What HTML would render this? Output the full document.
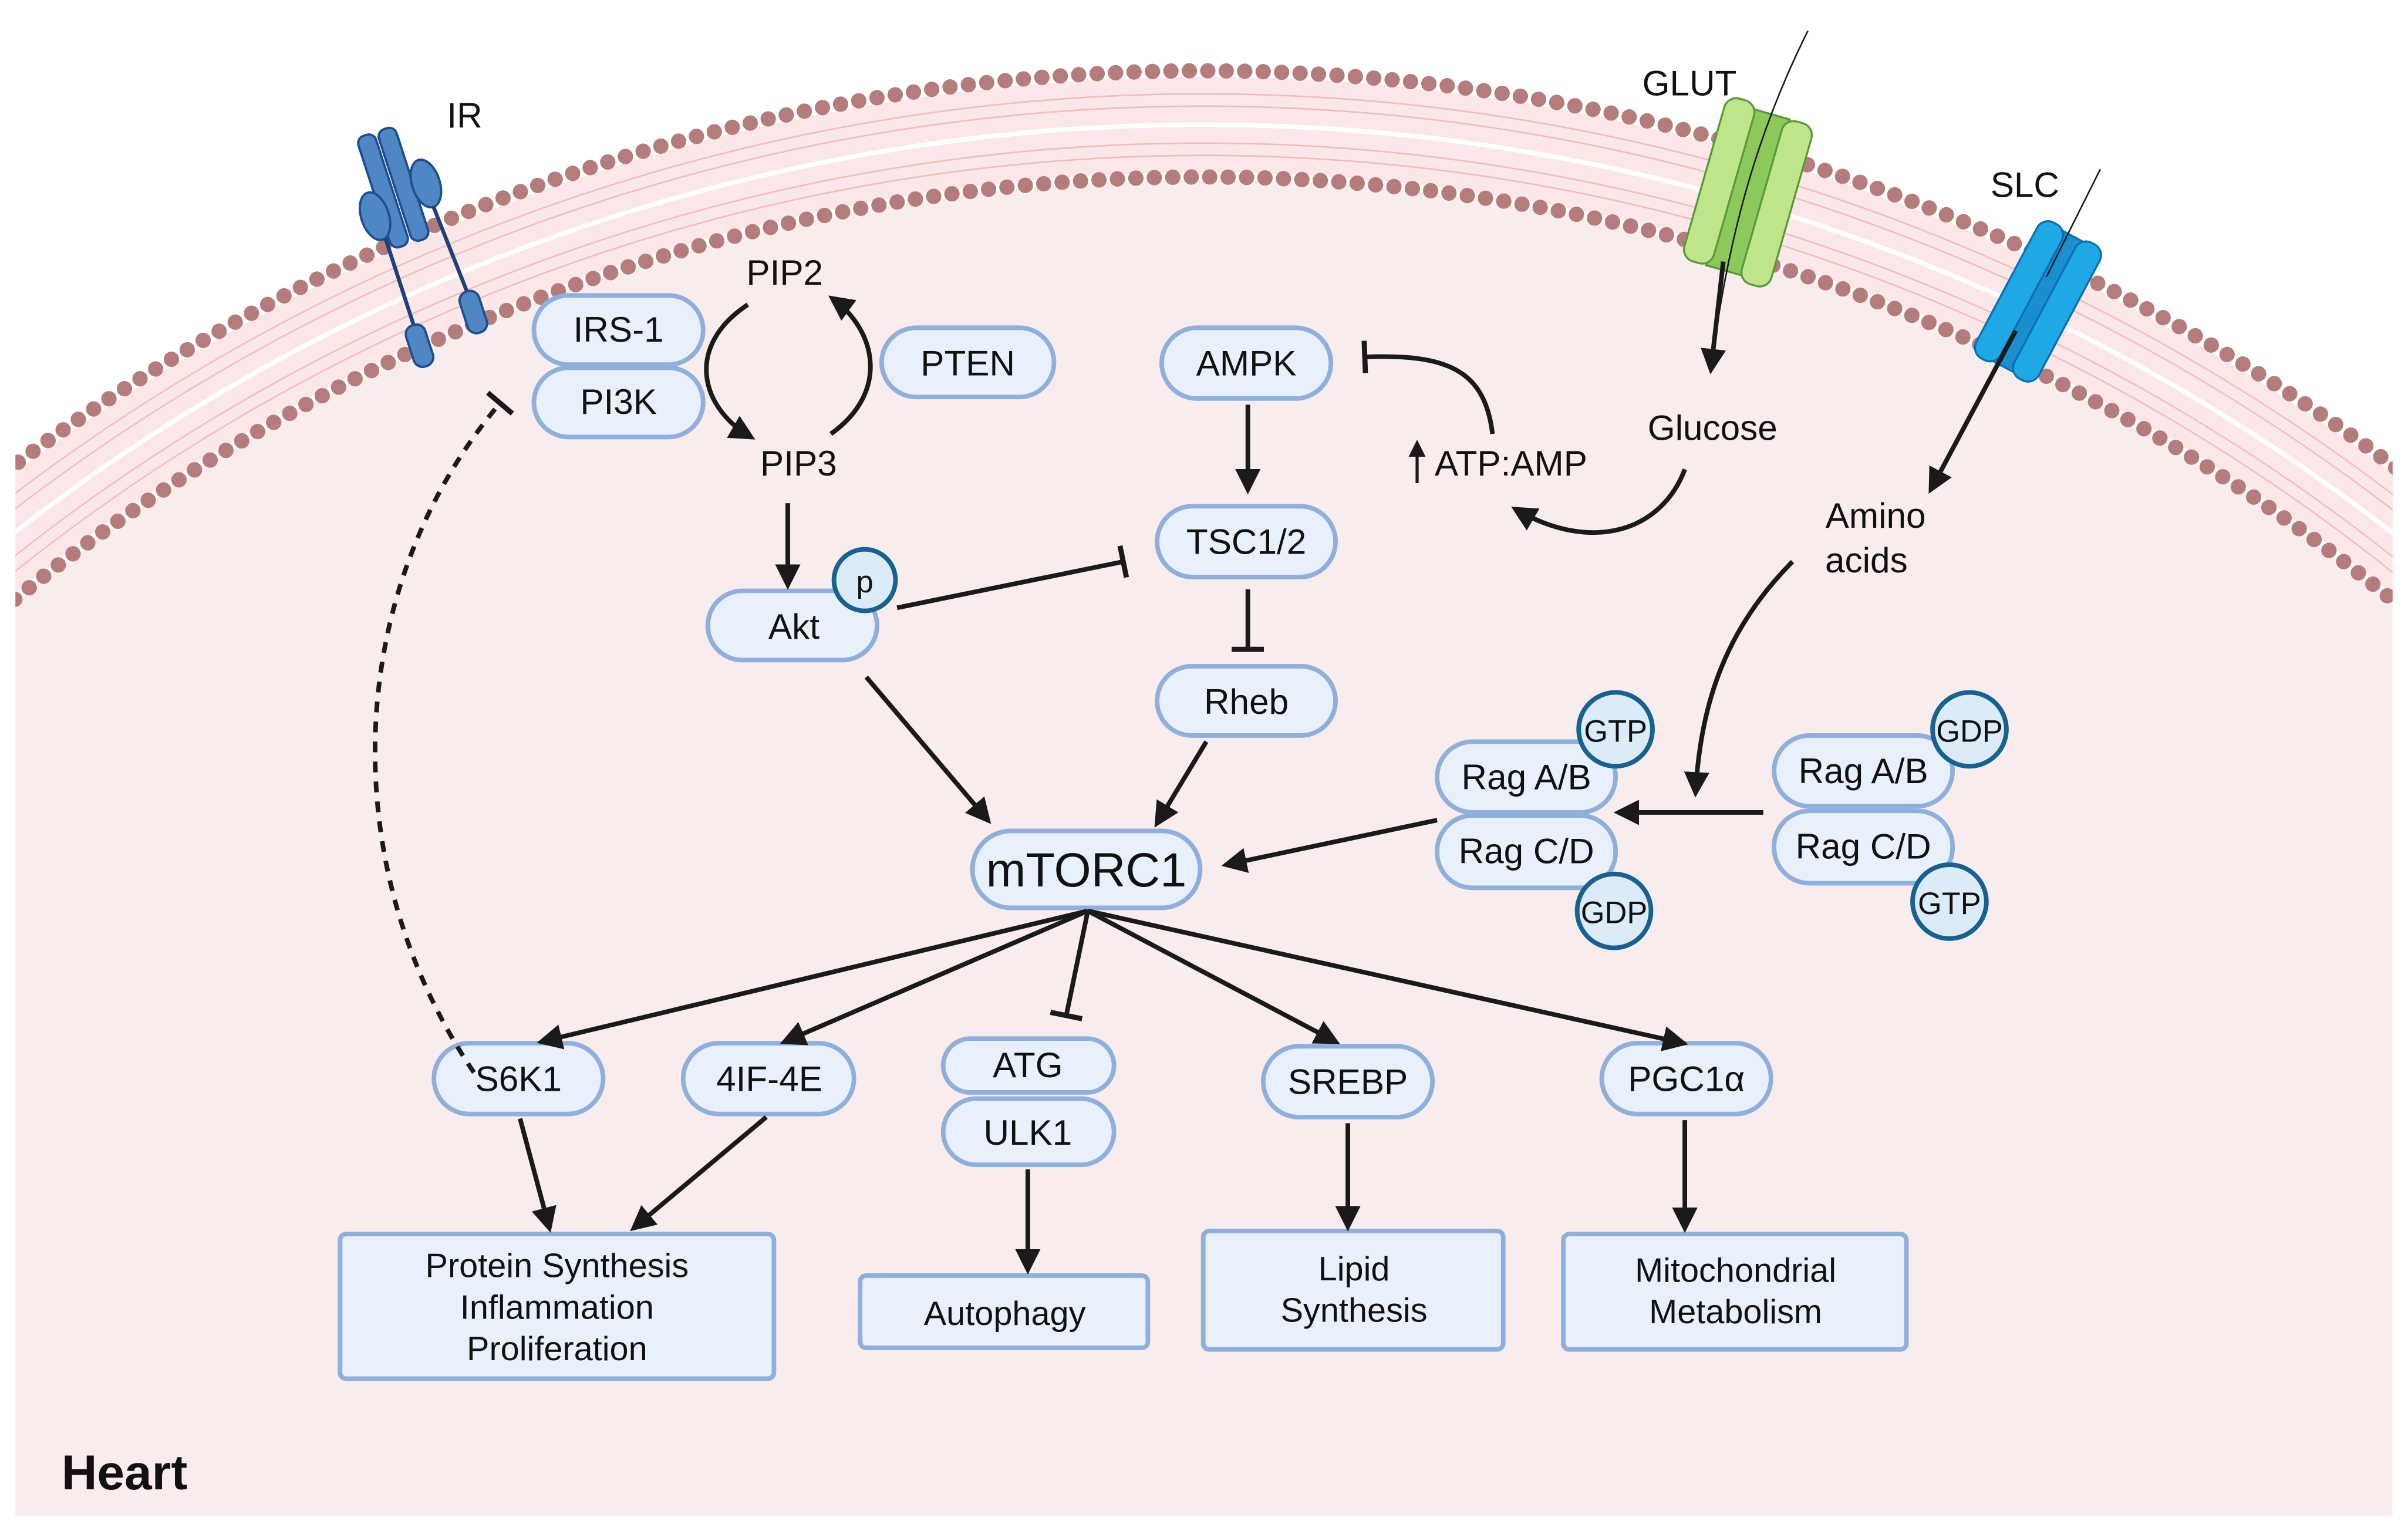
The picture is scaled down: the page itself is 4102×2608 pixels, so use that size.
<!DOCTYPE html>
<html><head><meta charset="utf-8"><style>
html,body{margin:0;padding:0;background:#fff;width:4102px;height:2608px;overflow:hidden;position:relative;}
svg{display:block;position:absolute;left:0;top:0;}
text{font-family:"Liberation Sans",sans-serif;fill:#111;}
</style></head><body>
<svg width="4102" height="2608" viewBox="0 0 1565 995" preserveAspectRatio="none" overflow="hidden" xmlns="http://www.w3.org/2000/svg">
<defs>
<clipPath id="c"><rect x="10" y="0" width="1545" height="985"/></clipPath>
<marker id="ar" viewBox="0 0 10 10" refX="8" refY="5" markerWidth="5.5" markerHeight="5.5" orient="auto" markerUnits="strokeWidth"><path d="M0,0 L10,5 L0,10 z" fill="#1a1a1a"/></marker>
<marker id="bar" viewBox="0 0 10 10" refX="5" refY="5" markerWidth="7" markerHeight="7" orient="auto" markerUnits="strokeWidth"><path d="M5,0 L5,10" stroke="#1a1a1a" stroke-width="1.6"/></marker>
</defs>
<g clip-path="url(#c)">
<circle cx="782" cy="1339" r="1258" fill="#fff"/>
<circle cx="782" cy="1339" r="1222" fill="#f9eced"/>
<circle cx="782" cy="1339" r="1258" fill="none" stroke="#fbe7e7" stroke-width="62"/>
<circle cx="782" cy="1339" r="1278" fill="none" stroke="#f2bcbc" stroke-width="1"/>
<circle cx="782" cy="1339" r="1270" fill="none" stroke="#f2bcbc" stroke-width="1"/>
<circle cx="782" cy="1339" r="1246" fill="none" stroke="#f2bcbc" stroke-width="1"/>
<circle cx="782" cy="1339" r="1238" fill="none" stroke="#f2bcbc" stroke-width="1"/>
<circle cx="782" cy="1339" r="1258" fill="none" stroke="#fff" stroke-width="3"/>
<circle cx="782" cy="1339" r="1293" fill="none" stroke="#b57c7c" stroke-width="10" stroke-linecap="round" stroke-dasharray="0 12"/>
<circle cx="782" cy="1339" r="1224" fill="none" stroke="#b57c7c" stroke-width="10" stroke-linecap="round" stroke-dasharray="0 12"/>
</g>

<!-- IR receptor -->
<g transform="rotate(-18 280 155)" fill="#4f86c6" stroke="#1f4e8c" stroke-width="1.5">
<rect x="254" y="78" width="12" height="76" rx="5"/>
<rect x="268" y="78" width="12" height="76" rx="5"/>
<ellipse cx="250" cy="130" rx="9" ry="16"/>
<ellipse cx="288" cy="120" rx="9" ry="16"/>
<line x1="252" y1="146" x2="252" y2="210" stroke="#1f3f80" stroke-width="2.5"/>
<line x1="288" y1="136" x2="292" y2="200" stroke="#1f3f80" stroke-width="2.5"/>
<rect x="245" y="205" width="13" height="28" rx="6"/>
<rect x="285" y="195" width="13" height="28" rx="6"/>
</g>
<!-- GLUT -->
<g transform="rotate(16 1136 125)" stroke="#5a9a3a" stroke-width="1.3">
<rect x="1123" y="72" width="26" height="106" fill="#8cc85a"/>
<rect x="1106" y="68" width="20" height="110" rx="8" fill="#bfe58a"/>
<rect x="1146" y="72" width="20" height="110" rx="8" fill="#bfe58a"/>
</g>
<!-- SLC -->
<g transform="rotate(28 1325 195)" stroke="#0b6fb0" stroke-width="1.3">
<rect x="1313" y="148" width="24" height="96" fill="#1a8fd0"/>
<rect x="1302" y="146" width="18" height="100" rx="8" fill="#1ea8e6"/>
<rect x="1330" y="146" width="18" height="100" rx="8" fill="#1ea8e6"/>
</g>
<path d="M1175,20 C1140,90 1122,160 1112,240" fill="none" stroke="#1a1a1a" stroke-width="1"/>
<path d="M1120,170 L1112,240" fill="none" stroke="#1a1a1a" stroke-width="3" marker-end="url(#ar)"/>
<path d="M1365,110 L1330,180" fill="none" stroke="#1a1a1a" stroke-width="1"/>
<path d="M1310,215 L1255,318" fill="none" stroke="#1a1a1a" stroke-width="3" marker-end="url(#ar)"/>

<!-- nodes -->
<g fill="#e8f1fb" stroke="#8fb0dc" stroke-width="3">
<rect x="347" y="192" width="110" height="45" rx="22.5"/>
<rect x="347" y="239" width="110" height="45" rx="22.5"/>
<rect x="573" y="213" width="112" height="45" rx="22.5"/>
<rect x="755" y="213" width="110" height="46" rx="23"/>
<rect x="752" y="329" width="116" height="46" rx="23"/>
<rect x="752" y="433" width="116" height="45" rx="22.5"/>
<rect x="460" y="384" width="110" height="45" rx="22.5"/>
<rect x="632" y="540" width="148" height="50" rx="25"/>
<rect x="934" y="482" width="116" height="46" rx="23"/>
<rect x="934" y="530" width="116" height="47" rx="23"/>
<rect x="1153" y="478" width="116" height="46" rx="23"/>
<rect x="1153" y="527" width="116" height="47" rx="23"/>
<rect x="282" y="678" width="110" height="46" rx="23"/>
<rect x="444" y="678" width="111" height="46" rx="23"/>
<rect x="613" y="675" width="111" height="35" rx="17.5"/>
<rect x="613" y="714" width="111" height="43" rx="21.5"/>
<rect x="821" y="680" width="110" height="46" rx="23"/>
<rect x="1041" y="678" width="110" height="46" rx="23"/>
<rect x="221" y="802" width="282" height="94" rx="4"/>
<rect x="559" y="829" width="187" height="47" rx="4"/>
<rect x="782" y="800" width="195" height="77" rx="4"/>
<rect x="1016" y="802" width="223" height="75" rx="4"/>
</g>
<g fill="#dcebf8" stroke="#17628f" stroke-width="3">
<circle cx="562" cy="377" r="20"/>
<circle cx="1050" cy="474" r="24"/>
<circle cx="1049" cy="592" r="24"/>
<circle cx="1280" cy="474" r="24"/>
<circle cx="1267" cy="586" r="24"/>
</g>

<g font-size="23" text-anchor="middle">
<text x="402" y="222">IRS-1</text>
<text x="402" y="269">PI3K</text>
<text x="629" y="244">PTEN</text>
<text x="810" y="244">AMPK</text>
<text x="810" y="360">TSC1/2</text>
<text x="810" y="464">Rheb</text>
<text x="516" y="415">Akt</text>
<text x="562" y="385" font-size="20">p</text>
<text x="706" y="576" font-size="31">mTORC1</text>
<text x="992" y="513">Rag A/B</text>
<text x="992" y="561">Rag C/D</text>
<text x="1211" y="509">Rag A/B</text>
<text x="1211" y="558">Rag C/D</text>
<text x="1050" y="482" font-size="20">GTP</text>
<text x="1049" y="600" font-size="20">GDP</text>
<text x="1280" y="482" font-size="20">GDP</text>
<text x="1267" y="594" font-size="20">GTP</text>
<text x="337" y="709">S6K1</text>
<text x="500" y="709">4IF-4E</text>
<text x="668" y="700">ATG</text>
<text x="668" y="744">ULK1</text>
<text x="876" y="711">SREBP</text>
<text x="1096" y="709">PGC1α</text>
<text x="362" y="830" font-size="22">Protein Synthesis</text>
<text x="362" y="857" font-size="22">Inflammation</text>
<text x="362" y="884" font-size="22">Proliferation</text>
<text x="653" y="861" font-size="22">Autophagy</text>
<text x="880" y="832" font-size="22">Lipid</text>
<text x="880" y="859" font-size="22">Synthesis</text>
<text x="1128" y="833" font-size="22">Mitochondrial</text>
<text x="1128" y="860" font-size="22">Metabolism</text>
<text x="302" y="83">IR</text>
<text x="510" y="185">PIP2</text>
<text x="519" y="309">PIP3</text>
<text x="1098" y="62">GLUT</text>
<text x="1316" y="128">SLC</text>
<text x="1113" y="286">Glucose</text>
<text x="982" y="309">ATP:AMP</text>
<text x="1219" y="343">Amino</text>
<text x="1213" y="372">acids</text>
</g>
<text x="40" y="968" font-size="32" font-weight="bold">Heart</text>
<path d="M921,314 L921,288" stroke="#1a1a1a" stroke-width="2" marker-end="url(#ar)"/>

<!-- arrows -->
<g fill="none" stroke="#1a1a1a" stroke-width="3">
<path d="M486,198 C445,225 455,265 488,284" marker-end="url(#ar)"/>
<path d="M540,282 C578,255 570,215 541,194" marker-end="url(#ar)"/>
<path d="M512,327 L512,380" marker-end="url(#ar)"/>
<path d="M811,263 L811,318" marker-end="url(#ar)"/>
<path d="M811,383 L811,422" marker-end="url(#bar)"/>
<path d="M583,395 L730,365" marker-end="url(#bar)"/>
<path d="M970,282 C965,240 940,230 887,232" marker-end="url(#bar)"/>
<path d="M1095,305 C1080,345 1035,360 985,331" marker-end="url(#ar)"/>
<path d="M1165,365 C1120,410 1105,460 1102,515" marker-end="url(#ar)"/>
<path d="M1146,528 L1052,528" marker-end="url(#ar)"/>
<path d="M934,533 L797,562" marker-end="url(#ar)"/>
<path d="M563,440 L642,533" marker-end="url(#ar)"/>
<path d="M784,482 L752,535" marker-end="url(#ar)"/>
<path d="M707,592 L352,677" marker-end="url(#ar)"/>
<path d="M707,592 L510,677" marker-end="url(#ar)"/>
<path d="M707,592 L693,660" marker-end="url(#bar)"/>
<path d="M707,592 L868,677" marker-end="url(#ar)"/>
<path d="M707,592 L1094,678" marker-end="url(#ar)"/>
<path d="M338,727 L357,798" marker-end="url(#ar)"/>
<path d="M498,726 L412,798" marker-end="url(#ar)"/>
<path d="M668,760 L668,825" marker-end="url(#ar)"/>
<path d="M876,730 L876,797" marker-end="url(#ar)"/>
<path d="M1095,728 L1095,798" marker-end="url(#ar)"/>
<path d="M308,697 C215,560 225,380 325,262" stroke-dasharray="7 6" marker-end="url(#bar)"/>
</g>
</svg>
</body></html>
